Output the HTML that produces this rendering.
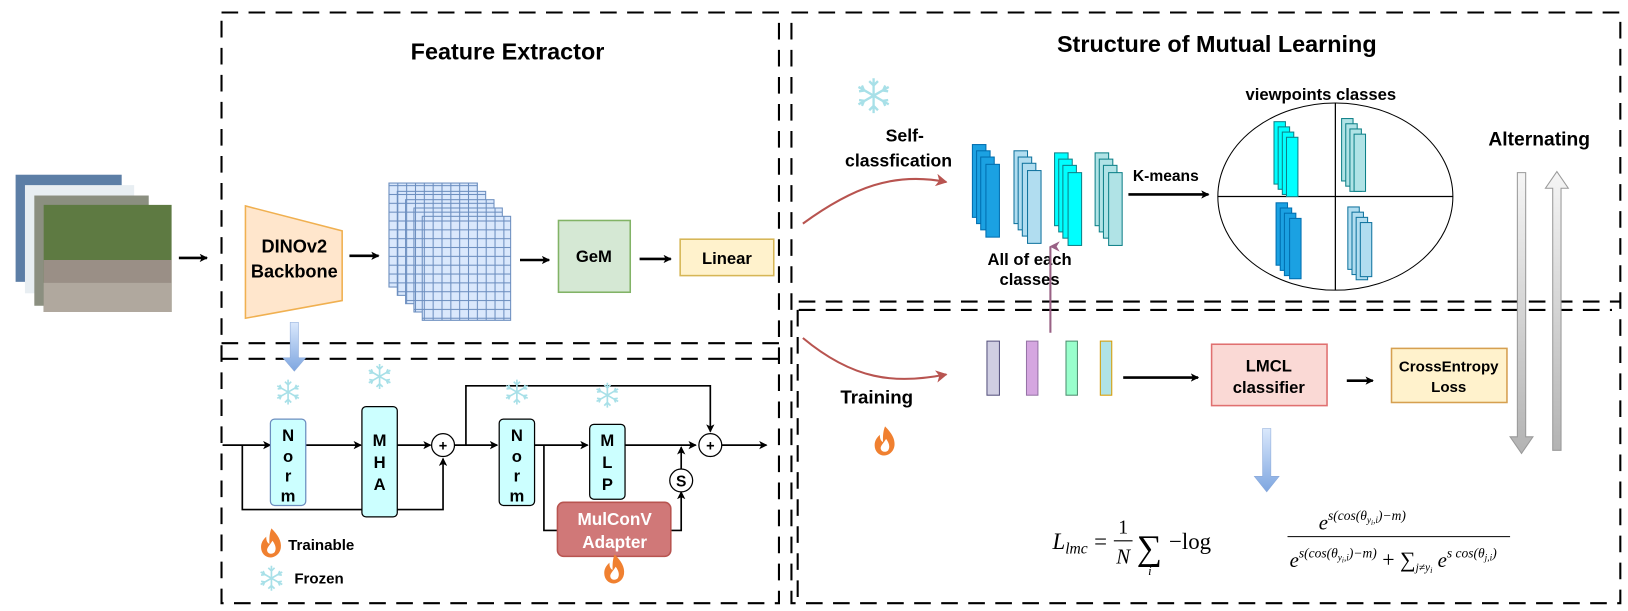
<!DOCTYPE html>
<html><head><meta charset="utf-8"><style>
body{margin:0;background:#fff}
svg{display:block}
text{font-family:"Liberation Sans",sans-serif;font-weight:bold;fill:#000}
.m{font-family:"Liberation Serif",serif;font-weight:normal;font-style:italic}
.r{font-family:"Liberation Serif",serif;font-weight:normal}
</style></head><body>
<svg width="1628" height="611" viewBox="0 0 1628 611" xmlns="http://www.w3.org/2000/svg">
<defs>
<marker id="a" markerWidth="8" markerHeight="8" refX="7" refY="4" orient="auto" markerUnits="userSpaceOnUse"><path d="M0,0 L8,4 L0,8 L2,4 z" fill="#000"/></marker>
<marker id="ar" markerWidth="12" markerHeight="12" refX="10" refY="6" orient="auto" markerUnits="userSpaceOnUse"><path d="M0,0 L11,6 L0,12 L3,6 z" fill="#b85450"/></marker>
<marker id="ap" markerWidth="10" markerHeight="10" refX="5" refY="1" orient="auto" markerUnits="userSpaceOnUse"><path d="M0,10 L5,0 L10,10 L5,7 z" fill="#996185"/></marker>
<pattern id="g" width="8.5" height="8.5" patternUnits="userSpaceOnUse"><rect width="8.5" height="8.5" fill="#dae8fc" stroke="#6c8ebf" stroke-width="1"/></pattern>
<linearGradient id="bl" x1="0" y1="0" x2="0" y2="1"><stop offset="0" stop-color="#dae8fc"/><stop offset="1" stop-color="#7ea6e0"/></linearGradient>
<linearGradient id="gd" x1="0" y1="0" x2="0" y2="1"><stop offset="0" stop-color="#f5f5f5"/><stop offset="1" stop-color="#b3b3b3"/></linearGradient>
<linearGradient id="gu" x1="0" y1="1" x2="0" y2="0"><stop offset="0" stop-color="#b3b3b3"/><stop offset="1" stop-color="#f5f5f5"/></linearGradient>
<g id="sf" stroke="#a8e0e8" stroke-width="1.6" fill="none"><path d="M0,-12V12M-10.4,-6L10.4,6M-10.4,6L10.4,-6M-3,-10L0,-7L3,-10M-3,10L0,7L3,10M-10,-3L-6.5,-3.5L-8,-7M10,3L6.5,3.5L8,7M-8,7L-6.5,3.5L-10,3M8,-7L6.5,-3.5L10,-3"/></g>
<g id="fl"><path d="M0,-14 C6,-8 10,-2 9,5 C8,11 3,14 -1,14 C-6,14 -10,10 -10,4 C-10,-1 -7,-4 -5,-6 C-5,-2 -4,0 -2,1 C-2,-5 -2,-9 0,-14z" fill="#f08030"/><path d="M1,-2 C4,2 5,6 3,9 C1,11 -3,11 -4,8 C-5,5 -2,3 1,-2z" fill="#fff"/></g>
</defs>
<g transform="scale(1.04)">

<!-- dashed frames -->
<g fill="none" stroke="#000" stroke-width="2" stroke-dasharray="16,10">
<rect x="213" y="12" width="536" height="568"/>
<line x1="213" y1="330" x2="749" y2="330"/>
<line x1="213" y1="345" x2="749" y2="345"/>
<rect x="761" y="12" width="797" height="568"/>
<line x1="768" y1="290" x2="1558" y2="290"/>
<line x1="768" y1="298" x2="1550" y2="298"/>
<line x1="767" y1="298" x2="767" y2="580"/>
</g>

<text x="488" y="57" font-size="22.5" text-anchor="middle">Feature Extractor</text>
<text x="1170" y="50" font-size="22.5" text-anchor="middle">Structure of Mutual Learning</text>

<!-- images -->
<rect x="15" y="168" width="102" height="103" fill="#5c7ea6"/>
<rect x="24" y="178" width="105" height="104" fill="#e8eef2"/>
<rect x="33" y="188" width="110" height="106" fill="#8b8f80"/>
<rect x="42" y="197" width="123" height="103" fill="#5e7a42"/>
<rect x="42" y="250" width="123" height="50" fill="#9a8f86"/>
<rect x="42" y="272" width="123" height="28" fill="#b0a89e"/>
<line x1="172" y1="248" x2="199" y2="248" stroke="#000" stroke-width="2.5" marker-end="url(#a)"/>

<!-- backbone -->
<path d="M236,198 L329,222 L329,289 L236,306z" fill="#ffe6cc" stroke="#f0b050" stroke-width="1.5"/>
<text x="283" y="243" font-size="17.5" text-anchor="middle">DINOv2</text>
<text x="283" y="267" font-size="17.5" text-anchor="middle">Backbone</text>
<line x1="336" y1="246" x2="364" y2="246" stroke="#000" stroke-width="2.5" marker-end="url(#a)"/>
<g stroke="#6c8ebf" stroke-width="1">
<rect x="374" y="176" width="85" height="100" fill="url(#g)"/>
<rect x="382" y="184" width="85" height="100" fill="url(#g)"/>
<rect x="390" y="192" width="85" height="100" fill="url(#g)"/>
<rect x="398" y="200" width="85" height="100" fill="url(#g)"/>
<rect x="406" y="208" width="85" height="100" fill="url(#g)"/>
</g>
<line x1="500" y1="250" x2="528" y2="250" stroke="#000" stroke-width="2.5" marker-end="url(#a)"/>
<rect x="537" y="212" width="69" height="69" fill="#d5e8d4" stroke="#82b366" stroke-width="1.5"/>
<text x="571" y="252" font-size="16" text-anchor="middle">GeM</text>
<line x1="615" y1="249" x2="645" y2="249" stroke="#000" stroke-width="2.5" marker-end="url(#a)"/>
<rect x="654" y="230" width="90" height="35" fill="#fff2cc" stroke="#d6b656" stroke-width="1.5"/>
<text x="699" y="254" font-size="16" text-anchor="middle">Linear</text>

<!-- blue down arrow -->
<path d="M279,310 H287 V344 H294 L283,357 L272,344 H279z" fill="url(#bl)" stroke="#8aa8d8" stroke-width="0.5"/>

<!-- bottom block -->
<g stroke="#000" stroke-width="1.6" fill="none">
<line x1="214" y1="428" x2="260" y2="428" marker-end="url(#a)"/>
<path d="M233,428 V490 H426 V441" marker-end="url(#a)"/>
<line x1="294" y1="428" x2="347" y2="428" marker-end="url(#a)"/>
<line x1="382" y1="428" x2="414" y2="428" marker-end="url(#a)"/>
<line x1="437" y1="428" x2="478" y2="428" marker-end="url(#a)"/>
<path d="M448,428 V371 H683 V415" marker-end="url(#a)"/>
<line x1="514" y1="428" x2="565" y2="428" marker-end="url(#a)"/>
<path d="M601,428 H669" marker-end="url(#a)"/>
<line x1="694" y1="428" x2="737" y2="428" marker-end="url(#a)"/>
<path d="M523,428 V510 H536"/>
<path d="M645,510 H655 V473" marker-end="url(#a)"/>
<line x1="655" y1="451" x2="655" y2="430" marker-end="url(#a)"/>
</g>
<rect x="260" y="403" width="34" height="83" rx="4" fill="#ccffff" stroke="#6c8ebf" stroke-width="1.2"/>
<text x="277" y="424" font-size="16" text-anchor="middle">N</text><text x="277" y="444" font-size="16" text-anchor="middle">o</text><text x="277" y="463" font-size="16" text-anchor="middle">r</text><text x="277" y="482" font-size="16" text-anchor="middle">m</text>
<rect x="348" y="391" width="34" height="106" rx="4" fill="#ccffff" stroke="#000" stroke-width="1.2"/>
<text x="365" y="429" font-size="16" text-anchor="middle">M</text><text x="365" y="450" font-size="16" text-anchor="middle">H</text><text x="365" y="471" font-size="16" text-anchor="middle">A</text>
<rect x="480" y="403" width="34" height="83" rx="4" fill="#ccffff" stroke="#000" stroke-width="1.2"/>
<text x="497" y="424" font-size="16" text-anchor="middle">N</text><text x="497" y="444" font-size="16" text-anchor="middle">o</text><text x="497" y="463" font-size="16" text-anchor="middle">r</text><text x="497" y="482" font-size="16" text-anchor="middle">m</text>
<rect x="567" y="408" width="34" height="72" rx="4" fill="#ccffff" stroke="#000" stroke-width="1.2"/>
<text x="584" y="429" font-size="16" text-anchor="middle">M</text><text x="584" y="450" font-size="16" text-anchor="middle">L</text><text x="584" y="471" font-size="16" text-anchor="middle">P</text>
<circle cx="426" cy="428" r="11" fill="#fff" stroke="#000" stroke-width="1.2"/><text x="426" y="433" font-size="14" text-anchor="middle">+</text>
<circle cx="683" cy="428" r="11" fill="#fff" stroke="#000" stroke-width="1.2"/><text x="683" y="433" font-size="14" text-anchor="middle">+</text>
<circle cx="655" cy="462" r="11" fill="#fff" stroke="#000" stroke-width="1.2"/><text x="655" y="468" font-size="15" text-anchor="middle">S</text>
<rect x="536" y="483" width="109" height="52" rx="6" fill="#d07878" stroke="#b85450" stroke-width="1.5"/>
<text x="591" y="505" font-size="16.5" text-anchor="middle" style="fill:#fff">MulConV</text>
<text x="591" y="527" font-size="16.5" text-anchor="middle" style="fill:#fff">Adapter</text>
<use href="#sf" x="277" y="377"/><use href="#sf" x="365" y="362"/><use href="#sf" x="497" y="377"/><use href="#sf" x="584" y="380"/>
<use href="#fl" x="591" y="547"/>
<use href="#fl" x="261" y="522"/>
<text x="277" y="529" font-size="14.5">Trainable</text>
<use href="#sf" x="261" y="556"/>
<text x="283" y="561" font-size="14.5">Frozen</text>

<!-- right top -->
<g transform="translate(840,92) scale(1.4) translate(-840,-92)"><use href="#sf" x="840" y="92"/></g>
<text x="870" y="136" font-size="17" text-anchor="middle">Self-</text>
<text x="864" y="160" font-size="17" text-anchor="middle">classfication</text>
<path d="M772,215 C820,180 860,165 910,175" fill="none" stroke="#b85450" stroke-width="2" marker-end="url(#ar)"/>
<g stroke-width="1">
<g fill="#1ba1e2" stroke="#006eaf"><rect x="935" y="139" width="13" height="70"/><rect x="939" y="145" width="13" height="70"/><rect x="943" y="151" width="13" height="70"/><rect x="948" y="158" width="13" height="70"/></g>
<g fill="#b1ddf0" stroke="#10739e"><rect x="975" y="145" width="13" height="70"/><rect x="979" y="151" width="13" height="70"/><rect x="983" y="157" width="13" height="70"/><rect x="988" y="164" width="13" height="70"/></g>
<g fill="#00ffff" stroke="#0e8088"><rect x="1014" y="147" width="13" height="70"/><rect x="1018" y="153" width="13" height="70"/><rect x="1022" y="159" width="13" height="70"/><rect x="1027" y="166" width="13" height="70"/></g>
<g fill="#b0e3e6" stroke="#0e8088"><rect x="1053" y="147" width="13" height="70"/><rect x="1057" y="153" width="13" height="70"/><rect x="1061" y="159" width="13" height="70"/><rect x="1066" y="166" width="13" height="70"/></g>
</g>
<text x="1121" y="174" font-size="15" text-anchor="middle">K-means</text>
<line x1="1085" y1="187" x2="1162" y2="187" stroke="#000" stroke-width="2.5" marker-end="url(#a)"/>
<text x="1270" y="96" font-size="16" text-anchor="middle">viewpoints classes</text>
<ellipse cx="1284" cy="189" rx="113" ry="90" fill="#fff" stroke="#000" stroke-width="1"/>
<line x1="1171" y1="189" x2="1397" y2="189" stroke="#000" stroke-width="1.2"/>
<line x1="1284" y1="99" x2="1284" y2="279" stroke="#000" stroke-width="1.2"/>
<g stroke-width="1">
<g fill="#00ffff" stroke="#0e8088"><rect x="1225" y="117" width="11" height="60"/><rect x="1229" y="122" width="11" height="60"/><rect x="1233" y="127" width="11" height="60"/><rect x="1237" y="132" width="11" height="57"/></g>
<g fill="#b0e3e6" stroke="#0e8088"><rect x="1290" y="114" width="11" height="60"/><rect x="1294" y="119" width="11" height="60"/><rect x="1298" y="124" width="11" height="60"/><rect x="1302" y="129" width="11" height="55"/></g>
<g fill="#1ba1e2" stroke="#006eaf"><rect x="1227" y="195" width="11" height="60"/><rect x="1231" y="200" width="11" height="60"/><rect x="1235" y="205" width="11" height="60"/><rect x="1240" y="210" width="11" height="58"/></g>
<g fill="#b1ddf0" stroke="#10739e"><rect x="1296" y="199" width="11" height="60"/><rect x="1300" y="204" width="11" height="60"/><rect x="1304" y="209" width="11" height="60"/><rect x="1308" y="214" width="11" height="52"/></g>
</g>
<text x="1480" y="140" font-size="18.5" text-anchor="middle">Alternating</text>
<path d="M1459,166 H1467 V420 H1474 L1463,436 L1452,420 H1459z" fill="url(#gd)" stroke="#999" stroke-width="1"/>
<path d="M1493,433 H1501 V181 H1508 L1497,165 L1486,181 H1493z" fill="url(#gu)" stroke="#999" stroke-width="1"/>

<text x="990" y="255" font-size="16" text-anchor="middle">All of each</text>
<text x="990" y="274" font-size="16" text-anchor="middle">classes</text>
<line x1="1010" y1="320" x2="1010" y2="237" stroke="#996185" stroke-width="2" marker-end="url(#ap)"/>

<!-- right bottom -->
<path d="M772,325 C820,365 860,370 910,360" fill="none" stroke="#b85450" stroke-width="2" marker-end="url(#ar)"/>
<text x="843" y="388" font-size="18" text-anchor="middle">Training</text>
<use href="#fl" x="851" y="424"/>
<rect x="949" y="328" width="12" height="52" fill="#d0cee2" stroke="#56517e"/>
<rect x="987" y="328" width="11" height="52" fill="#d5a6e0" stroke="#9673a6"/>
<rect x="1025" y="328" width="11" height="52" fill="#99ffcc" stroke="#4d8f6f"/>
<rect x="1058" y="328" width="11" height="52" fill="#b0e3e6" stroke="#d79b00"/>
<line x1="1080" y1="363" x2="1152" y2="363" stroke="#000" stroke-width="2.5" marker-end="url(#a)"/>
<rect x="1165" y="331" width="111" height="59" fill="#fad9d5" stroke="#e07070" stroke-width="1.5"/>
<text x="1220" y="357" font-size="16" text-anchor="middle">LMCL</text>
<text x="1220" y="378" font-size="16" text-anchor="middle">classifier</text>
<line x1="1295" y1="366" x2="1320" y2="366" stroke="#000" stroke-width="2.5" marker-end="url(#a)"/>
<rect x="1338" y="335" width="111" height="52" fill="#fff2cc" stroke="#d6a050" stroke-width="1.5"/>
<text x="1393" y="357" font-size="14.5" text-anchor="middle">CrossEntropy</text>
<text x="1393" y="377" font-size="14.5" text-anchor="middle">Loss</text>
<path d="M1214,412 H1222 V458 H1230 L1218,473 L1206,458 H1214z" fill="url(#bl)" stroke="#8aa8d8" stroke-width="0.5"/>

<!-- formula -->
<text x="1012" y="528" class="m" font-size="22">L<tspan font-size="15" dy="4">lmc</tspan></text>
<text x="1052" y="528" class="r" font-size="22">=</text>
<text x="1080" y="513" class="r" font-size="19" text-anchor="middle">1</text>
<line x1="1071" y1="520" x2="1089" y2="520" stroke="#000" stroke-width="1"/>
<text x="1080" y="542" class="m" font-size="20" text-anchor="middle">N</text>
<text x="1093" y="538" class="r" font-size="34">∑</text>
<text x="1104" y="553" class="m" font-size="12">i</text>
<text x="1124" y="528" class="r" font-size="22">−log</text>
<text x="1268" y="509" class="m" font-size="20">e<tspan font-size="13" dy="-9">s(cos(θ</tspan><tspan font-size="9" dy="3">y</tspan><tspan font-size="7" dy="2">i</tspan><tspan font-size="9" dy="-2">,i</tspan><tspan font-size="13" dy="-3">)−m)</tspan></text>
<line x1="1238" y1="516" x2="1452" y2="516" stroke="#000" stroke-width="1"/>
<text x="1240" y="545" class="m" font-size="20">e<tspan font-size="13" dy="-9">s(cos(θ</tspan><tspan font-size="9" dy="3">y</tspan><tspan font-size="7" dy="2">i</tspan><tspan font-size="9" dy="-2">,i</tspan><tspan font-size="13" dy="-3">)−m)</tspan><tspan font-style="normal" font-size="21" dy="9"> + ∑</tspan><tspan font-size="11" dy="4">j≠y</tspan><tspan font-size="8" dy="2">i</tspan><tspan font-size="20" dy="-6"> e</tspan><tspan font-size="13" dy="-9">s cos(θ</tspan><tspan font-size="9" dy="3">j,i</tspan><tspan font-size="13" dy="-3">)</tspan></text>
</g>
</svg>
</body></html>
